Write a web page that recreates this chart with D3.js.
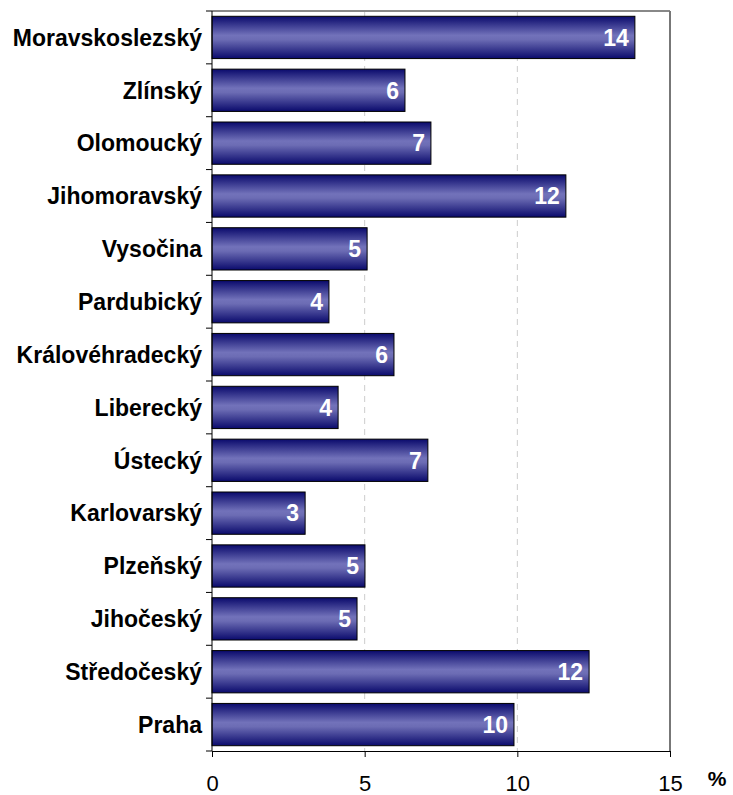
<!DOCTYPE html>
<html>
<head>
<meta charset="utf-8">
<script src="https://cdn.jsdelivr.net/npm/d3@7"></script>
<style>
  body { margin: 0; background: #fff; }
  svg text { font-family: Arial, "Liberation Sans", sans-serif; }
</style>
</head>
<body>
<div id="chart"></div>
<script>
var regions = ["Moravskoslezský", "Zlínský", "Olomoucký", "Jihomoravský", "Vysočina",
  "Pardubický", "Královéhradecký", "Liberecký", "Ústecký", "Karlovarský",
  "Plzeňský", "Jihočeský", "Středočeský", "Praha"];
var shares = [13.85, 6.32, 7.17, 11.59, 5.08, 3.83, 5.96, 4.13, 7.07, 3.05, 5.01, 4.75, 12.35, 9.89];
var xTicks = [0, 5, 10, 15];

var width = 733, height = 795;
var plotLeft = 212, plotRight = 670, plotTop = 11, plotBottom = 751;

var svg = d3.select("#chart").append("svg")
    .attr("width", width)
    .attr("height", height);

var grad = svg.append("defs").append("linearGradient")
    .attr("id", "barGrad")
    .attr("x1", 0).attr("y1", 0).attr("x2", 0).attr("y2", 1);
grad.append("stop").attr("offset", "0%").attr("stop-color", "#0a0a6c");
grad.append("stop").attr("offset", "45%").attr("stop-color", "#7272ba");
grad.append("stop").attr("offset", "55%").attr("stop-color", "#6c6cb4");
grad.append("stop").attr("offset", "100%").attr("stop-color", "#0a0a6c");

var x = d3.scaleLinear().domain([0, 15]).range([plotLeft, plotRight]);
var y = d3.scaleBand().domain(regions).range([plotTop, plotBottom]).paddingInner(0.2).paddingOuter(0.1);

// grid lines
svg.selectAll("line.grid")
  .data([5, 10])
  .enter().append("line")
    .attr("class", "grid")
    .attr("x1", function(d) { return x(d); })
    .attr("x2", function(d) { return x(d); })
    .attr("y1", plotTop)
    .attr("y2", plotBottom)
    .attr("stroke", "#cccccc")
    .attr("stroke-dasharray", "6,5");

// frame top + right
svg.append("line")
    .attr("x1", plotLeft).attr("x2", plotRight).attr("y1", plotTop).attr("y2", plotTop)
    .attr("stroke", "#888").attr("stroke-width", 2);
svg.append("line")
    .attr("x1", plotRight).attr("x2", plotRight).attr("y1", plotTop).attr("y2", plotBottom)
    .attr("stroke", "#777").attr("stroke-width", 2);

// bars
svg.selectAll("rect.bar")
  .data(shares)
  .enter().append("rect")
    .attr("class", "bar")
    .attr("x", x(0))
    .attr("y", function(d, i) { return y(regions[i]); })
    .attr("width", function(d) { return x(d) - x(0); })
    .attr("height", y.bandwidth())
    .attr("fill", "url(#barGrad)")
    .attr("stroke", "#000")
    .attr("stroke-width", 1);

svg.selectAll("text.val")
  .data(shares)
  .enter().append("text")
    .attr("class", "val")
    .attr("x", function(d) { return x(d) - 6; })
    .attr("y", function(d, i) { return y(regions[i]) + y.bandwidth() / 2; })
    .attr("dy", "0.36em")
    .attr("text-anchor", "end")
    .attr("fill", "#fff")
    .attr("font-weight", "bold")
    .attr("font-size", "23px")
    .text(function(d) { return Math.round(d); });

// left axis with ticks at band boundaries
var yAxis = svg.append("g");
yAxis.append("line")
    .attr("x1", plotLeft).attr("x2", plotLeft).attr("y1", plotTop).attr("y2", plotBottom)
    .attr("stroke", "#000");
var bounds = d3.range(regions.length + 1).map(function(i) {
  return plotTop + i * (plotBottom - plotTop) / regions.length;
});
yAxis.selectAll("line.tk")
  .data(bounds)
  .enter().append("line")
    .attr("class", "tk")
    .attr("x1", plotLeft - 6).attr("x2", plotLeft)
    .attr("y1", function(d) { return d; }).attr("y2", function(d) { return d; })
    .attr("stroke", "#000");
yAxis.selectAll("text")
  .data(regions)
  .enter().append("text")
    .attr("x", 202)
    .attr("y", function(d) { return y(d) + y.bandwidth() / 2; })
    .attr("dy", "0.36em")
    .attr("text-anchor", "end")
    .attr("font-weight", "bold")
    .attr("font-size", "23px")
    .attr("fill", "#000")
    .text(function(d) { return d; });

// bottom axis
var xAxis = svg.append("g")
    .attr("transform", "translate(0," + plotBottom + ")")
    .call(d3.axisBottom(x).tickValues(xTicks).tickSize(6).tickPadding(18));
xAxis.select(".domain").attr("stroke", "#000");
xAxis.selectAll(".tick line").attr("stroke", "#000");
xAxis.selectAll(".tick text")
    .attr("font-size", "22px")
    .attr("font-family", "Arial, 'Liberation Sans', sans-serif")
    .attr("fill", "#000");

svg.append("text")
    .attr("x", 717)
    .attr("y", 786)
    .attr("text-anchor", "middle")
    .attr("font-weight", "bold")
    .attr("font-size", "21px")
    .text("%");
</script>
</body>
</html>
